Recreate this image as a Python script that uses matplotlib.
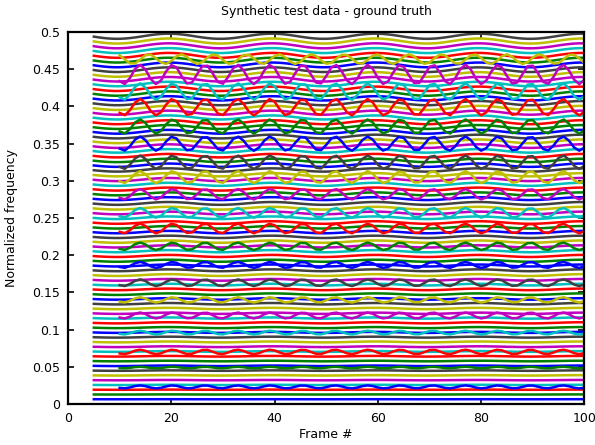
import numpy as np
import matplotlib
matplotlib.use('Agg')
import matplotlib.pyplot as plt

plt.rcParams['font.family'] = ['DejaVu Sans']

# old matlab colour order: b, g, r, c, m, y, k(dark grey)
line_colors = [(0, 0, 1), (0, 0.5, 0), (1, 0, 0), (0, 0.75, 0.75),
               (0.75, 0, 0.75), (0.75, 0.75, 0), (0.25, 0.25, 0.25)]

# steady partials k * f0, drawn from frame 5 on
base_f0 = 0.00642
base_count = 77
base_frames = np.arange(5, 101)
base_depth = 0.007        # relative slow wobble
base_period = 20.0        # frames
base_dip = 9.5            # frame of first dip

# vibrato partials, drawn from frame 10 on
mod_frames = np.arange(10, 101)
mod_centers = [0.023, 0.049, 0.070, 0.096, 0.119, 0.140, 0.163, 0.187, 0.212, 0.236,
               0.257, 0.282, 0.305, 0.325, 0.350, 0.373, 0.399, 0.420, 0.443, 0.4636]
mod_amps = [0.002, 0.001, 0.003, 0.0025, 0.004, 0.0035, 0.0045, 0.004, 0.005, 0.0065,
            0.0065, 0.007, 0.008, 0.009, 0.0095, 0.0095, 0.011, 0.011, 0.013, 0.0065]
mod_periods = [6.3] * 20
mod_dips = [10.8] * 19 + [12.5]

x_ticks = [0, 20, 40, 60, 80, 100]
y_ticks = [0, 0.05, 0.1, 0.15, 0.2, 0.25, 0.3, 0.35, 0.4, 0.45, 0.5]
y_ticklabels = ['0', '0.05', '0.1', '0.15', '0.2', '0.25', '0.3', '0.35', '0.4', '0.45', '0.5']

fig = plt.figure(figsize=(5.95, 4.45), dpi=100)
ax = fig.add_axes([0.1143, 0.0921, 0.868, 0.8359])

n = 0
# 稳定的谐波线
wob = -np.cos(2 * np.pi * (base_frames - base_dip) / base_period)
for k in range(1, base_count + 1):
    f = k * base_f0 * (1 + base_depth * wob)
    ax.plot(base_frames, f, color=line_colors[n % 7], lw=1.8)
    n += 1

# 带颤音的线
for c, a, p, d in zip(mod_centers, mod_amps, mod_periods, mod_dips):
    f = c - a * np.cos(2 * np.pi * (mod_frames - d) / p)
    ax.plot(mod_frames, f, color=line_colors[n % 7], lw=1.8)
    n += 1

ax.set_xlim(0, 100)
ax.set_ylim(0, 0.5)
ax.set_xticks(x_ticks)
ax.set_yticks(y_ticks)
ax.set_yticklabels(y_ticklabels)
ax.tick_params(direction='in', top=True, right=True, labelsize=9, length=4, width=1.2, pad=6)
for s in ax.spines.values():
    s.set_linewidth(1.6)

ax.set_title('Synthetic test data - ground truth', fontsize=9, pad=12)
ax.set_xlabel('Frame #', fontsize=9, labelpad=2)
ax.set_ylabel('Normalized frequency', fontsize=9, labelpad=10)

fig.savefig('out.png', dpi=100)
